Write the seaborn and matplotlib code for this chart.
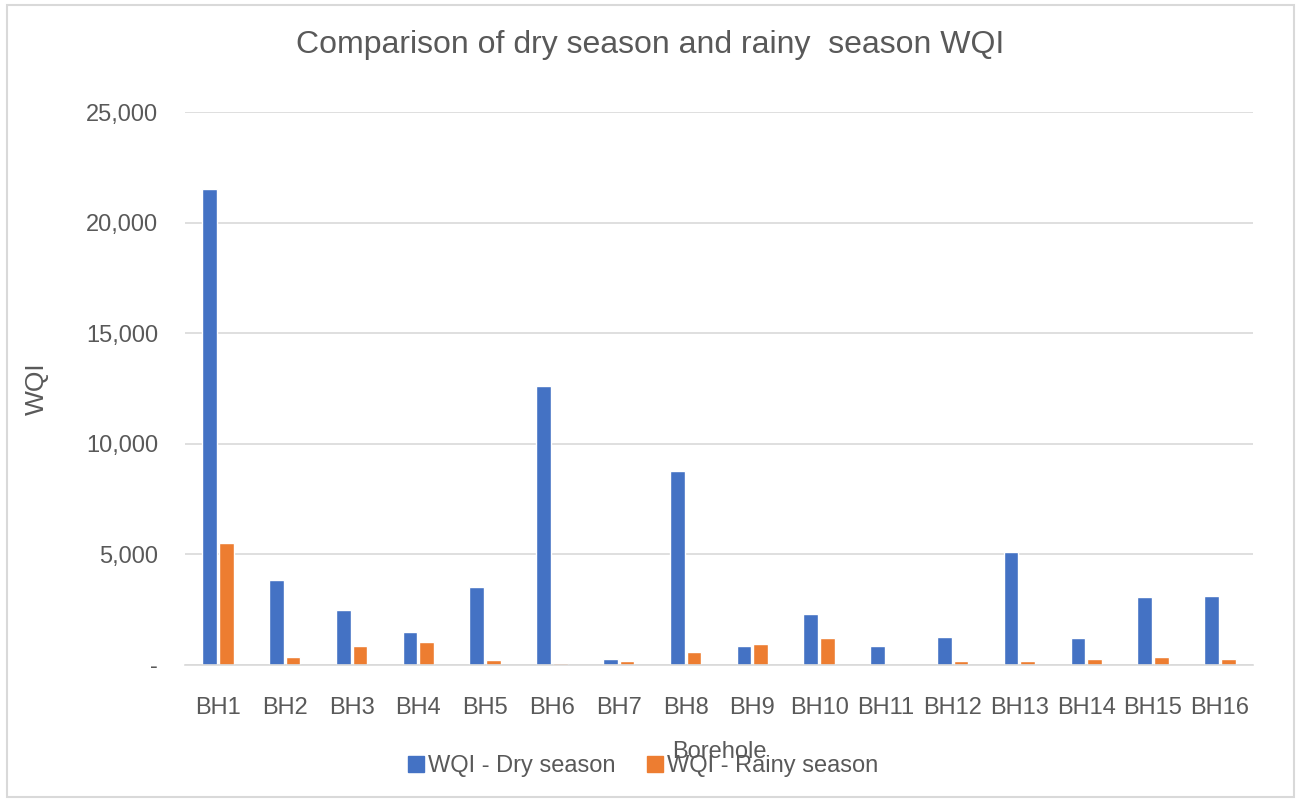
import seaborn as sns
import matplotlib.pyplot as plt
import matplotlib.ticker as mticker
from matplotlib.patches import Rectangle
import pandas as pd

# Data
boreholes = ["BH1", "BH2", "BH3", "BH4", "BH5", "BH6", "BH7", "BH8",
             "BH9", "BH10", "BH11", "BH12", "BH13", "BH14", "BH15", "BH16"]
dry_season = [21500, 3830, 2475, 1500, 3540, 12600, 245, 8770,
              840, 2280, 840, 1245, 5100, 1200, 3075, 3105]
rainy_season = [5530, 350, 840, 1020, 200, 75, 165, 600,
                930, 1200, 0, 165, 165, 240, 360, 240]
series_names = ["WQI - Dry season", "WQI - Rainy season"]
colors = ["#4472C4", "#ED7D31"]

df = pd.DataFrame({
    "Borehole": boreholes * 2,
    "WQI": dry_season + rainy_season,
    "Series": [series_names[0]] * len(boreholes) + [series_names[1]] * len(boreholes),
})

sns.set_style("white")
plt.rcParams["font.family"] = ["Liberation Sans", "DejaVu Sans"]
text_color = "#595959"

fig = plt.figure(figsize=(13, 8), dpi=100)
ax = fig.add_axes([0.142, 0.169, 0.822, 0.691])

sns.barplot(data=df, x="Borehole", y="WQI", hue="Series", palette=colors,
            width=0.5, gap=0.12, ax=ax, legend=False, saturation=1)

ax.set_ylim(0, 25000)
ax.set_yticks(range(0, 25001, 5000))
ax.yaxis.set_major_formatter(mticker.FuncFormatter(
    lambda v, p: "-" if v == 0 else f"{v:,.0f}"))
ax.grid(axis="y", color="#d9d9d9", linewidth=1.2)
ax.set_axisbelow(True)
for s in ["top", "right", "left"]:
    ax.spines[s].set_visible(False)
ax.spines["bottom"].set_color("#d9d9d9")
ax.spines["bottom"].set_linewidth(1.2)
ax.tick_params(axis="x", length=0, labelsize=17, colors=text_color, pad=23)
ax.tick_params(axis="y", length=0, labelsize=17, colors=text_color, pad=19)

fig.text(0.5, 1 - 45 / 800, "Comparison of dry season and rainy  season WQI",
         fontsize=23, color=text_color, ha="center", va="center")
ax.set_xlabel("Borehole", fontsize=17, color=text_color)
ax.xaxis.set_label_coords(0.5, -0.138)
ax.set_ylabel("WQI", fontsize=19, color=text_color)
ax.yaxis.set_label_coords(-0.127, 0.5)

handles = [plt.Line2D([], [], marker="s", linestyle="", color=c, markersize=11)
           for c in colors]
fig.legend(handles, series_names, loc="center", bbox_to_anchor=(0.495, 0.042),
           ncol=2, frameon=False, fontsize=17, labelcolor=text_color,
           handlelength=0.6, handletextpad=0.2, columnspacing=1.4)

fig.patches.append(Rectangle((0.005, 0.004), 0.99, 0.99, transform=fig.transFigure,
                             fill=False, edgecolor="#d9d9d9", linewidth=1.5))

fig.savefig("out.png", dpi=100)
plt.close(fig)
